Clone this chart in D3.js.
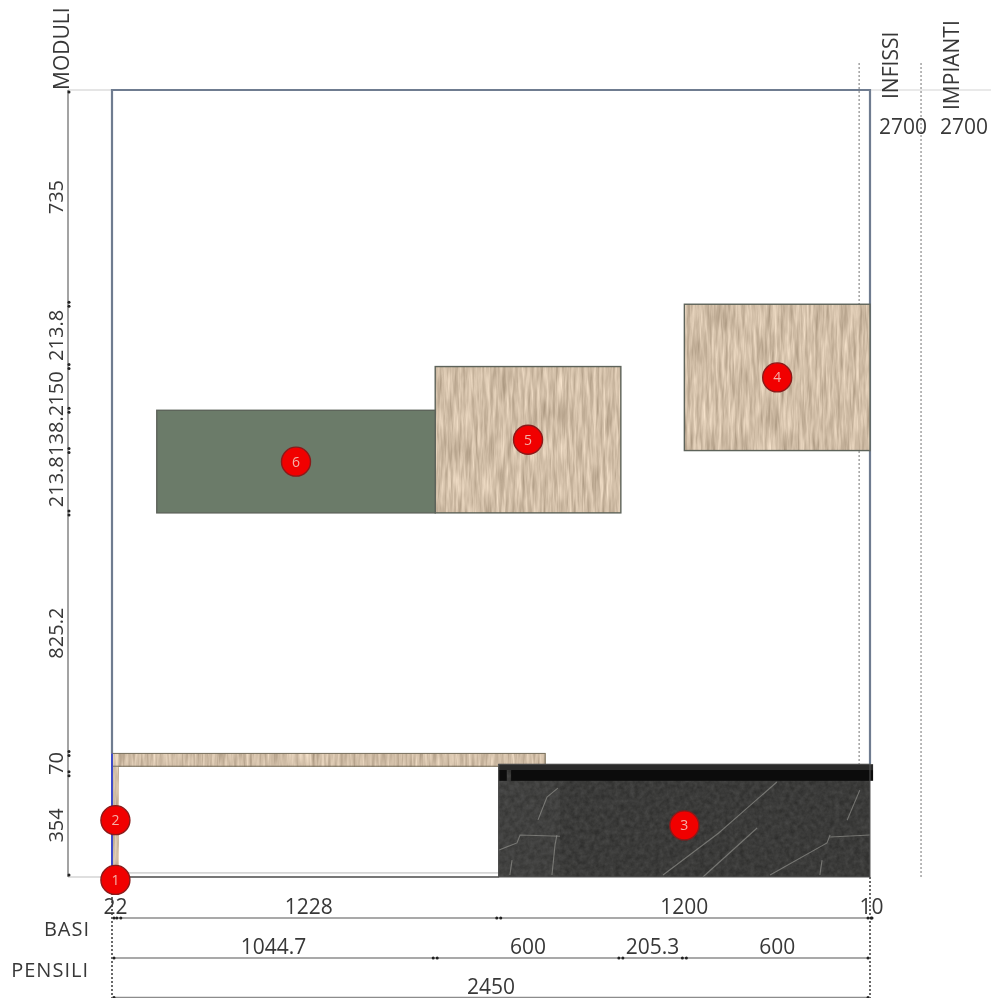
<!DOCTYPE html>
<html>
<head>
<meta charset="utf-8">
<script src="https://cdn.jsdelivr.net/npm/d3@7"></script>
<style>
  html, body { margin: 0; padding: 0; background: #fff; }
  svg { display: block; filter: blur(0.7px); }
  text { font-family: "Open Sans", sans-serif; fill: #383838; }
</style>
</head>
<body>
<div id="chart"></div>
<script>
// all values in mm
var roomWidth = 2450;
var roomHeight = 2700;

var basiLabels = ["22", "1228", "1200", "10"];
var basiStarts = [0, 22, 1250, 2450];
var basiEnds = [22, 1250, 2450, 2460];

var pensiliLabels = ["1044.7", "600", "205.3", "600"];
var pensiliStarts = [0, 1044.7, 1644.7, 1850];
var pensiliEnds = [1044.7, 1644.7, 1850, 2450];

var moduliLabels = ["354", "70", "825.2", "213.8", "138.2", "150", "213.8", "735"];
var moduliStarts = [0, 354, 424, 1249.2, 1463, 1601.2, 1751.2, 1965];
var moduliEnds = [354, 424, 1249.2, 1463, 1601.2, 1751.2, 1965, 2700];

// wall cabinets
var cabinetIds = [4, 5, 6];
var cabinetX0 = [1850, 1044.7, 144.7];
var cabinetX1 = [2450, 1644.7, 1044.7];
var cabinetY0 = [1463, 1249.2, 1249.2];
var cabinetY1 = [1965, 1751.2, 1601.2];
var cabinetFinish = ["wood", "wood", "green"];

// numbered markers
var markerIds = [1, 2, 3, 4, 5, 6];
var markerX = [11, 11, 1850, 2150, 1344.7, 594.7];
var markerY = [-10, 195, 177, 1714, 1500, 1425];

var infissiX = 2415;
var impiantiX = 2615;

// marble veins, [mm x, mm y]
var veins = [
  [[1781, 7], [1960, 150], [2149, 326]],
  [[1910, 0], [2085, 168]],
  [[2127, 7], [2311, 117], [2321, 144]],
  [[2376, 195], [2417, 298]],
  [[2288, 7], [2295, 58]],
  [[2321, 137], [2450, 144]],
  [[1251, 93], [1309, 117], [1319, 144], [1448, 140]],
  [[1286, 7], [1293, 58]],
  [[1377, 196], [1406, 274], [1441, 305]],
  [[1422, 7], [1432, 110], [1438, 144]]
];

var width = 991, height = 998;
var x = d3.scaleLinear().domain([0, roomWidth]).range([112, 870]);
var y = d3.scaleLinear().domain([0, roomHeight]).range([877, 90]);

var svg = d3.select("#chart").append("svg")
  .attr("width", width)
  .attr("height", height);

var defs = svg.append("defs");

// wood grain comes from stretched noise
var wood = defs.append("filter").attr("id", "wood")
  .attr("x", 0).attr("y", 0).attr("width", 1).attr("height", 1)
  .attr("color-interpolation-filters", "sRGB");
wood.append("feTurbulence").attr("type", "fractalNoise")
  .attr("baseFrequency", "0.32 0.03").attr("numOctaves", 3).attr("seed", 4);
wood.append("feColorMatrix").attr("type", "matrix")
  .attr("values", "0.38 0 0 0 0.63  0.38 0 0 0 0.555  0.38 0 0 0 0.465  0 0 0 0 1");

var marble = defs.append("filter").attr("id", "marble")
  .attr("x", 0).attr("y", 0).attr("width", 1).attr("height", 1)
  .attr("color-interpolation-filters", "sRGB");
marble.append("feTurbulence").attr("type", "fractalNoise")
  .attr("baseFrequency", "0.2").attr("numOctaves", 3).attr("seed", 9);
marble.append("feColorMatrix").attr("type", "matrix")
  .attr("values", "0.13 0 0 0 0.165  0.13 0 0 0 0.165  0.13 0 0 0 0.16  0 0 0 0 1");

function box(sel, x0, x1, y0, y1) {
  return sel.append("rect")
    .attr("x", x(x0))
    .attr("y", y(y1))
    .attr("width", x(x1) - x(x0))
    .attr("height", y(y0) - y(y1));
}

function hline(x0, x1, yy, color, w) {
  svg.append("line").attr("x1", x0).attr("x2", x1).attr("y1", yy).attr("y2", yy)
    .style("stroke", color).style("stroke-width", w);
}

function vline(xx, y0, y1, color, w, dash) {
  svg.append("line").attr("x1", xx).attr("x2", xx).attr("y1", y0).attr("y2", y1)
    .style("stroke", color).style("stroke-width", w)
    .style("stroke-dasharray", dash || null);
}

// faint extension lines
hline(68, x(0), y(roomHeight), "#dcdcdc", 1.5);
hline(x(roomWidth), width, y(roomHeight), "#e2e2e2", 1.5);
hline(68, x(0), y(0), "#d4d4d4", 1.5);

// room outline
svg.append("path")
  .attr("d", d3.line()([[x(0), y(424)], [x(0), y(roomHeight)], [x(roomWidth), y(roomHeight)], [x(roomWidth), y(387)]]))
  .style("fill", "none").style("stroke", "#6f7c90").style("stroke-width", 2.2);

// dotted reference lines
vline(x(infissiX), 63, y(0), "#a8a8a8", 1.6, "2 2");
vline(x(impiantiX), 63, y(0), "#a8a8a8", 1.6, "2 2");
vline(x(0), y(0), height, "#444", 1.6, "2 2");
vline(x(roomWidth), y(0), height, "#444", 1.6, "2 2");

// worktop and side panel
box(svg, 22, 1250, 0, 14).style("fill", "#fff").style("stroke", "#c4c4c4").style("stroke-width", 1.2);
hline(x(22), x(1250), y(0), "#777", 1.8);
box(svg, 0, 22, 0, 424).attr("filter", "url(#wood)");
box(svg, 0, 1400, 380, 424).attr("filter", "url(#wood)");
box(svg, 0, 1400, 380, 424).style("fill", "none").style("stroke", "#77705f").style("stroke-width", 1);
vline(x(0), y(424), y(0), "#3f4cc8", 2);

// base unit
box(svg, 1250, roomWidth, 0, 387).attr("filter", "url(#marble)");
box(svg, 1250, 1448, 0, 330).style("fill", "#fff").style("opacity", 0.03);
svg.append("g").selectAll("path")
  .data(veins)
  .enter().append("path")
  .attr("d", d3.line().x(function(d) { return x(d[0]); }).y(function(d) { return y(d[1]); }))
  .style("fill", "none").style("stroke", "#9c9c97").style("stroke-width", 1.1).style("opacity", 0.6);
box(svg, 1290, 2460, 330, 367).style("fill", "#0c0c0c");
box(svg, 1250, 1276, 330, 367).style("fill", "#0c0c0c");
box(svg, 1250, 2460, 367, 387).style("fill", "#2a2a2a");
box(svg, 1250, roomWidth, 0, 387).style("fill", "none").style("stroke", "#555").style("stroke-width", 1);

// wall cabinets
var cabinets = svg.append("g").selectAll("g")
  .data(cabinetIds)
  .enter().append("g");
cabinets.append("rect")
  .attr("x", function(d, i) { return x(cabinetX0[i]); })
  .attr("y", function(d, i) { return y(cabinetY1[i]); })
  .attr("width", function(d, i) { return x(cabinetX1[i]) - x(cabinetX0[i]); })
  .attr("height", function(d, i) { return y(cabinetY0[i]) - y(cabinetY1[i]); })
  .attr("filter", function(d, i) { return cabinetFinish[i] == "wood" ? "url(#wood)" : null; })
  .style("fill", "#6b7b69");
cabinets.append("rect")
  .attr("x", function(d, i) { return x(cabinetX0[i]); })
  .attr("y", function(d, i) { return y(cabinetY1[i]); })
  .attr("width", function(d, i) { return x(cabinetX1[i]) - x(cabinetX0[i]); })
  .attr("height", function(d, i) { return y(cabinetY0[i]) - y(cabinetY1[i]); })
  .style("fill", "none").style("stroke", "#5d635a").style("stroke-width", 1.4);

// dimension rows along the bottom
function dimRow(starts, ends, labels, yy) {
  hline(x(starts[0]), x(ends[ends.length - 1]), yy, "#8c8c8c", 1.6);
  var g = svg.append("g").selectAll("g").data(labels).enter().append("g");
  g.append("circle")
    .attr("cx", function(d, i) { return x(starts[i]) + 2; })
    .attr("cy", yy).attr("r", 1.5).style("fill", "#222");
  g.append("circle")
    .attr("cx", function(d, i) { return x(ends[i]) - 2; })
    .attr("cy", yy).attr("r", 1.5).style("fill", "#222");
  g.append("text")
    .attr("x", function(d, i) { return (x(starts[i]) + x(ends[i])) / 2; })
    .attr("y", yy - 4)
    .attr("text-anchor", "middle")
    .style("font-size", "21px")
    .text(function(d) { return d; });
}
dimRow(basiStarts, basiEnds, basiLabels, 918);
dimRow(pensiliStarts, pensiliEnds, pensiliLabels, 958);
dimRow([0], [roomWidth], ["2450"], 997.5);

// dimension column on the left
vline(68, y(roomHeight), y(0), "#8c8c8c", 1.6);
var moduli = svg.append("g").selectAll("g").data(moduliLabels).enter().append("g");
moduli.append("circle")
  .attr("cx", 69).attr("cy", function(d, i) { return y(moduliStarts[i]) - 2; })
  .attr("r", 1.5).style("fill", "#222");
moduli.append("circle")
  .attr("cx", 69).attr("cy", function(d, i) { return y(moduliEnds[i]) + 2; })
  .attr("r", 1.5).style("fill", "#222");
moduli.append("text")
  .attr("transform", function(d, i) {
    return "translate(63," + (y(moduliStarts[i]) + y(moduliEnds[i])) / 2 + ") rotate(-90)";
  })
  .attr("text-anchor", "middle")
  .style("font-size", "20px")
  .text(function(d) { return d; });

// headings
function vertLabel(txt, xx, yy) {
  svg.append("text")
    .attr("transform", "translate(" + xx + "," + yy + ") rotate(-90)")
    .style("font-size", "21px")
    .text(txt);
}
vertLabel("MODULI", 69, 90);
vertLabel("INFISSI", 898, 99);
vertLabel("IMPIANTI", 959, 110);

svg.append("text").attr("x", 903).attr("y", 134).attr("text-anchor", "middle").style("font-size", "21px").text("2700");
svg.append("text").attr("x", 964).attr("y", 134).attr("text-anchor", "middle").style("font-size", "21px").text("2700");
svg.append("text").attr("x", 90).attr("y", 936).attr("text-anchor", "end").style("font-size", "20px").style("letter-spacing", "1px").text("BASI");
svg.append("text").attr("x", 89).attr("y", 977).attr("text-anchor", "end").style("font-size", "20px").style("letter-spacing", "1px").text("PENSILI");

// numbered markers
var markers = svg.append("g").selectAll("g")
  .data(markerIds)
  .enter().append("g")
  .attr("transform", function(d, i) { return "translate(" + x(markerX[i]) + "," + y(markerY[i]) + ")"; });
markers.append("circle").attr("r", 14.5)
  .style("fill", "#f10000").style("stroke", "#8a1a1a").style("stroke-width", 1.4);
markers.append("text")
  .attr("text-anchor", "middle").attr("dy", "0.36em")
  .style("font-size", "14px").style("fill", "#f3b0a8")
  .text(function(d) { return d; });
</script>
</body>
</html>
